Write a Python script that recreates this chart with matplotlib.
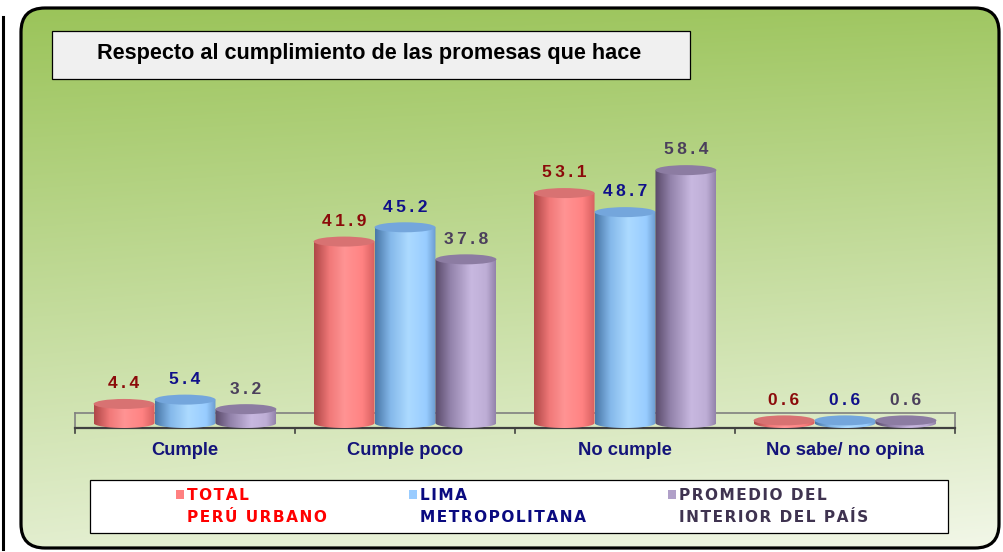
import numpy as np
import matplotlib.pyplot as plt
from matplotlib.colors import LinearSegmentedColormap, to_rgb
from matplotlib.patches import FancyBboxPatch, Rectangle, Ellipse, PathPatch
from matplotlib.path import Path

categories = ['Cumple', 'Cumple poco', 'No cumple', 'No sabe/ no opina']
total_peru = [4.4, 41.9, 53.1, 0.6]
lima_metro = [5.4, 45.2, 48.7, 0.6]
interior_pais = [3.2, 37.8, 58.4, 0.6]

series_names = ['TOTAL\nPERÚ URBANO', 'LIMA\nMETROPOLITANA', 'PROMEDIO DEL\nINTERIOR DEL PAÍS']
series_values = [total_peru, lima_metro, interior_pais]
title = 'Respecto al cumplimiento de las promesas que hace'

# shading stops (left edge -> right edge of each cylinder)
shades = [
    [(0, '#b04848'), (0.25, '#f07878'), (0.5, '#ff9494'), (0.8, '#ff8282'), (1, '#d86060')],
    [(0, '#4a78a8'), (0.25, '#84b8ea'), (0.55, '#acdaff'), (0.85, '#98ccff'), (1, '#6c9cd0')],
    [(0, '#5a4a6a'), (0.25, '#9282aa'), (0.6, '#c8b8e0'), (0.85, '#beaed6'), (1, '#9484ac')],
]
tops = ['#d87272', '#74a6dc', '#8c7ca2']
swatch = ['#ff8080', '#99ccff', '#b0a0c8']
value_colors = ['#8b0a0a', '#10108a', '#4b3f5c']
legend_colors = ['#ff0000', '#0a0a80', '#3f3350']


def spaced(s, sep):
    # crude letter spacing
    return sep.join(s)


W, H = 1004, 552
fig = plt.figure(figsize=(W / 100, H / 100), dpi=100)
fig.patch.set_facecolor('white')

# background / decoration axes in pixel coordinates
bg = fig.add_axes([0, 0, 1, 1], zorder=0)
bg.set_xlim(0, W)
bg.set_ylim(H, 0)
bg.axis('off')

panel = FancyBboxPatch((21, 8), 978, 540, boxstyle='round,pad=0,rounding_size=24',
                       facecolor='none', edgecolor='black', lw=2.3, zorder=3)
bg.add_patch(panel)
yy, xx = np.mgrid[0:1:200j, 0:1:300j]
f = np.clip(0.82 * yy + 0.12 * xx * yy + 0.06 * xx, 0, 1)
c0, c1 = np.array(to_rgb('#9bc45a')), np.array(to_rgb('#f2f7e8'))
grad = c0[None, None, :] * (1 - f[..., None]) + c1[None, None, :] * f[..., None]
im = bg.imshow(grad, extent=(21, 999, 548, 8), aspect='auto', zorder=1)
im.set_clip_path(panel)
bg.set_xlim(0, W)
bg.set_ylim(H, 0)
bg.plot([3, 3], [17, 549], color='black', lw=2.2)

# title box
bg.add_patch(Rectangle((52, 31), 638, 48, facecolor='#f0f0f0', edgecolor='black', lw=0.9, zorder=4))
bg.text(97, 53, title, fontsize=15.6, fontweight='bold', family='Liberation Sans',
        va='center', ha='left', zorder=5)

# floor of the 3D plot
bg.plot([75, 955], [413, 413], color='#808080', lw=1.2, zorder=4)
bg.plot([75, 75], [413, 428], color='#808080', lw=1.2, zorder=4)
bg.plot([955, 955], [413, 428], color='#808080', lw=1.2, zorder=4)
bg.plot([75, 955], [428, 428], color='#404040', lw=1.6, zorder=4)
for xt in [75, 295, 515, 735, 955]:
    bg.plot([xt, xt], [428, 433], color='#404040', lw=1.2, zorder=4)

# legend box
bg.add_patch(Rectangle((90, 480), 858, 53, facecolor='white', edgecolor='black', lw=0.9, zorder=4))
leg_x = [176, 409, 668]
leg_font = ['Liberation Sans Narrow', 'DejaVu Sans']
for i, name in enumerate(series_names):
    bg.add_patch(Rectangle((leg_x[i], 490), 8, 9, facecolor=swatch[i], edgecolor='none', zorder=5))
    l1, l2 = name.split('\n')
    bg.text(leg_x[i] + 11, 495, spaced(l1, '\u200a'), color=legend_colors[i], fontsize=11.1,
            fontweight='bold', family=leg_font, va='center', ha='left', zorder=5)
    bg.text(leg_x[i] + 11, 517, spaced(l2, '\u200a'), color=legend_colors[i], fontsize=11.1,
            fontweight='bold', family=leg_font, va='center', ha='left', zorder=5)

# chart axes: y=0 at pixel 423, 4.33 px per unit
ppu = 4.33
ylo, yhi = -4, 63
bottom_px = 423 + (-ylo) * ppu
top_px = 423 - yhi * ppu
ax = fig.add_axes([75 / W, (H - bottom_px) / H, 880 / W, (bottom_px - top_px) / H], zorder=2)
ax.patch.set_alpha(0)
for s in ax.spines.values():
    s.set_visible(False)
ax.set_yticks([])

x = np.arange(len(categories))
bw = 0.277
ell = 10 / ppu  # ellipse height in data units

for i, vals in enumerate(series_values):
    cmap = LinearSegmentedColormap.from_list('s%d' % i, shades[i])
    bars = ax.bar(x + (i - 1) * bw, vals, bw, color='none', edgecolor='none')
    for b, v in zip(bars, vals):
        x0, w, h = b.get_x(), b.get_width(), b.get_height()
        cx = x0 + w / 2
        # body outline: rectangle with rounded (elliptic) bottom
        th = np.linspace(np.pi, 2 * np.pi, 40)
        bx = cx + w / 2 * np.cos(th)
        by = ell / 2 * np.sin(th)
        verts = list(zip(bx, by)) + [(x0 + w, h), (x0, h), (bx[0], by[0])]
        body = PathPatch(Path(verts, closed=True), facecolor='none', edgecolor='none')
        ax.add_patch(body)
        img = ax.imshow(np.linspace(0, 1, 64)[None, :], cmap=cmap, aspect='auto',
                        extent=(x0, x0 + w, -ell, h), zorder=2 + i * 0.1)
        img.set_clip_path(body)
        ax.add_patch(Ellipse((cx, h), w, ell, facecolor=tops[i], edgecolor='none',
                             zorder=2.05 + i * 0.1))
        ax.annotate(spaced(f'{v:.1f}', '\u2009'), (cx, h), xytext=(0, 14.5),
                    textcoords='offset points', ha='center', va='center', fontsize=12.5,
                    fontweight='bold', family=['Liberation Sans', 'DejaVu Sans'],
                    color=value_colors[i], zorder=5)

ax.set_xlim(-0.5, 3.5)
ax.set_ylim(ylo, yhi)
ax.set_xticks(x)
ax.set_xticklabels(categories, fontsize=13.2, fontweight='bold', family='Liberation Sans',
                   color='#14147a')
ax.tick_params(axis='x', length=0, pad=1)

fig.savefig('out.png', dpi=100)
